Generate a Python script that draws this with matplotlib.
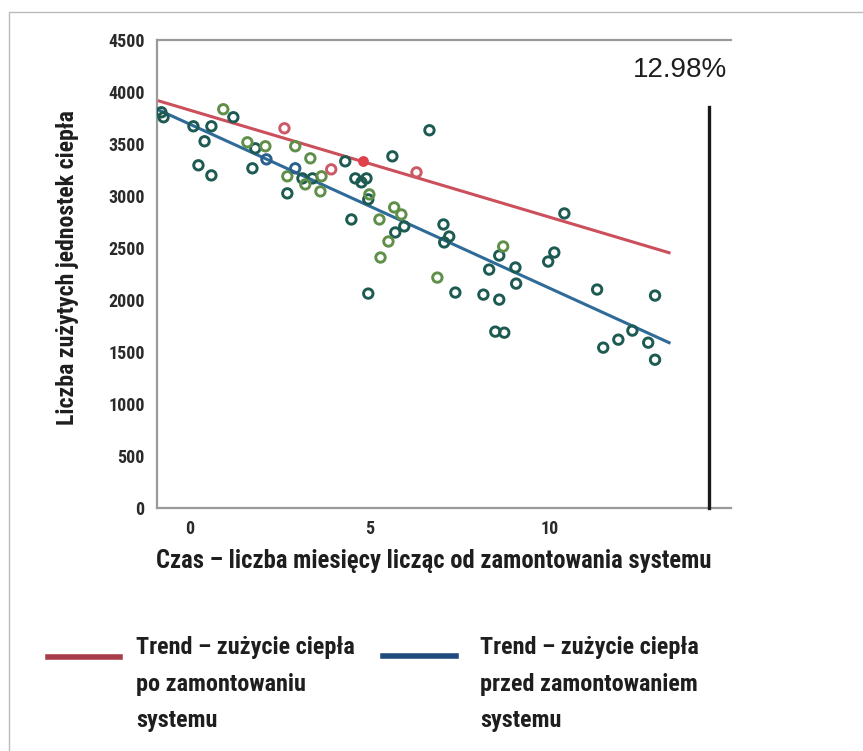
import matplotlib.pyplot as plt
from matplotlib.lines import Line2D
from matplotlib import font_manager

# months since installation / heat units used
teal_x = [-0.78, -0.72, 0.11, 0.25, 0.42, 0.61, 0.61, 1.22, 1.75, 1.83, 2.72,
          3.14, 3.42, 4.33, 4.50, 4.61, 4.78, 4.92, 4.97, 4.97, 5.64, 5.72,
          5.97, 6.67, 7.06, 7.08, 7.22, 7.39, 8.17, 8.33, 8.50, 8.61, 8.61,
          8.75, 9.06, 9.08, 9.97, 10.14, 10.42, 11.33, 11.50, 11.92, 12.31,
          12.75, 12.94, 12.94]
teal_y = [3806, 3758, 3671, 3296, 3527, 3671, 3199, 3758, 3267, 3459, 3026,
          3170, 3170, 3334, 2775, 3170, 3132, 3170, 2968, 2062, 3382, 2650,
          2708, 3633, 2727, 2554, 2611, 2072, 2052, 2293, 1696, 2428, 2004,
          1686, 2313, 2158, 2370, 2457, 2833, 2101, 1542, 1619, 1706,
          1590, 2043, 1426]

green_x = [0.94, 1.61, 2.11, 2.72, 2.94, 3.22, 3.36, 3.64, 3.67, 5.00, 5.28,
           5.31, 5.53, 5.69, 5.89, 6.89, 8.72]
green_y = [3835, 3517, 3479, 3190, 3479, 3112, 3363, 3045, 3190, 3016, 2775,
           2409, 2563, 2891, 2823, 2216, 2515]

blue_x = [2.14, 2.94]
blue_y = [3353, 3267]

red_x = [2.64, 3.94, 6.31]
red_y = [3652, 3257, 3228]
red_fill_x = [4.81]
red_fill_y = [3334]

trend_x = [-0.9, 13.33]
trend_after = [3920, 2455]
trend_before = [3835, 1590]

marker_x = 14.44
marker_top = 3854
pct_text = '12.98%'

yticks = [0, 500, 1000, 1500, 2000, 2500, 3000, 3500, 4000, 4500]
xticks = [0, 5, 10]

legend_after = 'Trend – zużycie ciepła\npo zamontowaniu\nsystemu'
legend_before = 'Trend – zużycie ciepła\nprzed zamontowaniem\nsystemu'

# look for a narrow/condensed face, else Roboto
names = {f.name for f in font_manager.fontManager.ttflist}
narrow = None
for cand in ['Liberation Sans Narrow', 'DejaVu Sans Condensed',
             'Roboto Condensed', 'Open Sans Condensed', 'Noto Sans Condensed']:
    if cand in names:
        narrow = cand
        break
if narrow is None:
    for n in sorted(names):
        if 'Condensed' in n or 'Narrow' in n:
            narrow = n
            break
if narrow is None:
    narrow = 'Roboto' if 'Roboto' in names else 'DejaVu Sans'
bold = dict(family=[narrow, 'DejaVu Sans'], weight='bold', color='#1e1e1e')

fig = plt.figure(figsize=(8.63, 7.51), dpi=100)
ax = fig.add_axes([0.182, 0.3236, 0.665, 0.623])

ax.plot(trend_x, trend_after, color='#cc4f5c', lw=2.2, zorder=2)
ax.plot(trend_x, trend_before, color='#2f6b98', lw=2.2, zorder=2)

kw = dict(s=46, facecolors='none', linewidths=2.1, zorder=3)
ax.scatter(teal_x, teal_y, edgecolors='#1d5a52', **kw)
ax.scatter(green_x, green_y, edgecolors='#5f8f48', **kw)
ax.scatter(blue_x, blue_y, edgecolors='#2b5f8c', **kw)
ax.scatter(red_x, red_y, edgecolors='#cc5a66', **kw)
ax.scatter(red_fill_x, red_fill_y, s=46, color='#e0404a', zorder=3)

ax.plot([marker_x, marker_x], [0, marker_top], color='#1a1a1a', lw=2.4,
        clip_on=False, zorder=4)
ax.text(13.64, 4211, pct_text, ha='center', va='center', fontsize=20,
        family='Liberation Sans', color='#1e1e1e')

ax.set_xlim(-0.9, 15.05)
ax.set_ylim(0, 4500)
tick_font = dict(family=[narrow, 'DejaVu Sans'], weight='bold', size=13,
                 color='#2a2a2a')
ax.set_xticks(xticks, [str(v) for v in xticks], **tick_font)
ax.set_yticks(yticks, [str(v) for v in yticks], **tick_font)
ax.tick_params(length=0, pad=9)

for s in ['left', 'bottom', 'top']:
    ax.spines[s].set_color('#9a9a9a')
    ax.spines[s].set_linewidth(1.6)
ax.spines['right'].set_visible(False)

ylab = fig.text(68 / 863, 1 - 268 / 751, 'Liczba zużytych jednostek ciepła',
                rotation=90, ha='center', va='center', fontsize=15, **bold)
xlab = fig.text(434 / 863, 1 - 561 / 751,
                'Czas – liczba miesięcy licząc od zamontowania systemu',
                ha='center', va='center', fontsize=15, **bold)

# legend drawn by hand to keep the three-line layout
fig.add_artist(Line2D([48 / 863, 120 / 863], [1 - 657 / 751] * 2,
                      color='#a83c4a', lw=4))
fig.add_artist(Line2D([383 / 863, 456 / 863], [1 - 656 / 751] * 2,
                      color='#1f4a7c', lw=4))
leg1 = fig.text(136 / 863, 1 - 684 / 751, legend_after, ha='left',
                va='center', fontsize=15, linespacing=2.0, **bold)
leg2 = fig.text(480 / 863, 1 - 684 / 751, legend_before, ha='left',
                va='center', fontsize=15, linespacing=2.0, **bold)

# fit text widths to the reference, since the face may be wider
fig.canvas.draw()
r = fig.canvas.get_renderer()


def fit(t, target, vertical=False):
    bb = t.get_window_extent(r)
    size = bb.height if vertical else bb.width
    t.set_fontsize(t.get_fontsize() * target / size)


fit(xlab, 556)
fit(ylab, 315, vertical=True)
fit(leg2, 219)
leg1.set_fontsize(leg2.get_fontsize())
leg1.set_linespacing(2.0 * 15 / leg2.get_fontsize())
leg2.set_linespacing(2.0 * 15 / leg2.get_fontsize())

# scan frame
fig.add_artist(Line2D([10 / 863, 1], [1 - 12 / 751] * 2, color='#bbbbbb', lw=1))
fig.add_artist(Line2D([9 / 863] * 2, [0, 1 - 12 / 751], color='#bbbbbb', lw=1))

fig.savefig('out.png', dpi=100)
